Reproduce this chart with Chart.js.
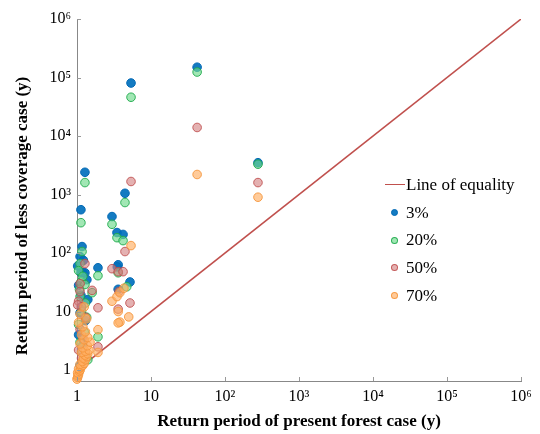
<!DOCTYPE html>
<html>
<head>
<meta charset="utf-8">
<script src="https://cdn.jsdelivr.net/npm/chart.js@4.4.0/dist/chart.umd.min.js"></script>
<style>
  html, body { margin: 0; padding: 0; background: #fff; }
  #wrap { position: relative; width: 540px; height: 434px; }
  #legend { position: absolute; left: 385px; top: 171px; font-family: "Liberation Serif", serif; font-size: 17px; color: #000; }
  #legend div { height: 27.7px; line-height: 24px; display: flex; align-items: center; }
  #legend .ln { width: 20px; height: 0; border-top: 1.5px solid #c0504d; margin-right: 1px; }
  #legend .mk { width: 7px; height: 7px; border-radius: 50%; box-sizing: border-box; border: 1px solid; margin: 0 8px 0 6px; }
</style>
</head>
<body>
<div id="wrap">
  <canvas id="chart" width="540" height="434"></canvas>
  <div id="legend"></div>
</div>
<script>
// tick labels
const xTicks = [1, 10, 100, 1e3, 1e4, 1e5, 1e6];
const xTickLabels = ['1', '10', '10²', '10³', '10⁴', '10⁵', '10⁶'];
const yTicks = [1, 10, 100, 1e3, 1e4, 1e5, 1e6];
const yTickLabels = ['1', '10', '10²', '10³', '10⁴', '10⁵', '10⁶'];
const yTitle = 'Return period of less coverage case (y)';

// line of equality
const eqX = [1, 1e6];
const eqY = [1, 1e6];

// 3% coverage
const s3X = [5.37, 42, 279, 1.28, 4.45, 1.13, 2.97, 3.47, 4.19, 1.17, 1.1, 1.92, 3.6, 3.5, 1.13, 1.2, 1.28, 1.36, 5.2, 1.13, 1.1, 3.6, 1.3, 1.05, 1.2, 1.3, 1.1, 1.4, 1.2, 1.02, 1.15, 1.05, 1.22];
const s3Y = [8.05e4, 1.5e5, 3500, 2400, 1050, 550, 420, 224, 208, 129, 87, 56, 63, 58, 46, 46, 46, 35, 32, 19, 9.5, 24, 7, 4, 2.7, 1.8, 1.2, 16, 3.3, 60, 12, 28, 75];

// 20% coverage
const s20X = [5.37, 42, 279, 1.28, 4.45, 1.13, 2.97, 3.47, 4.19, 1.17, 1.1, 1.92, 3.6, 1.13, 1.28, 4.7, 1.6, 1.92, 1.05, 1.2, 1.1, 1.3, 1.15, 1.35, 1.05, 1.25, 1.1, 1.2, 1.4, 1.08];
const s20Y = [4.6e4, 1.24e5, 3300, 1600, 730, 330, 310, 183, 163, 106, 66, 41, 46, 32, 29, 26.5, 21, 3.7, 50, 40, 18, 14, 10, 8, 6, 4.5, 3, 2, 1.5, 24];

// 50% coverage
const s50X = [5.37, 4.45, 42, 279, 1.28, 2.97, 3.6, 4.19, 1.6, 1.1, 3.7, 5.2, 1.92, 3.6, 1.92, 1.1, 1.05, 1.15, 1.3, 1.1, 1.2, 1.05, 1.15, 1.02];
const s50Y = [1670, 106, 1.4e4, 1600, 66, 54, 48, 48, 23, 22, 22, 14, 11.6, 11, 2.5, 30, 15, 12, 8, 5, 3.5, 2.2, 1.6, 13];

// 70% coverage
const s70X = [5.37, 42, 279, 1.92, 1.92, 2.97, 3.47, 3.8, 4.3, 3.6, 3.8, 3.6, 5.0, 1.0, 1.02, 1.03, 1.05, 1.02, 1.08, 1.1, 1.05, 1.12, 1.15, 1.2, 1.1, 1.25, 1.18, 1.3, 1.22, 1.35, 1.28, 1.4, 1.15, 1.3, 1.45, 1.2, 1.38, 1.1, 1.5, 1.25, 1.4, 1.15, 1.3, 1.2, 1.05, 1.35, 1.1, 1.25];
const s70Y = [134, 2200, 900, 4.9, 2.0, 15, 18, 21, 25, 10, 6.6, 6.4, 8.1, 0.7, 0.75, 0.8, 0.85, 0.9, 0.95, 1.0, 1.05, 1.1, 1.15, 1.2, 1.25, 1.3, 1.4, 1.5, 1.6, 1.7, 1.8, 1.9, 2.0, 2.1, 2.2, 2.4, 2.6, 2.8, 3.0, 3.3, 3.6, 4.0, 4.5, 5.5, 6.5, 7.5, 9, 12];

const series = [
  { label: '3%', xs: s3X, ys: s3Y, fill: 'rgba(0,112,189,0.92)', edge: 'rgba(0,104,180,1)', order: 4 },
  { label: '20%', xs: s20X, ys: s20Y, fill: 'rgba(110,218,140,0.65)', edge: 'rgba(30,170,75,0.9)', order: 3 },
  { label: '50%', xs: s50X, ys: s50Y, fill: 'rgba(210,125,125,0.6)', edge: 'rgba(190,75,75,0.85)', order: 2 },
  { label: '70%', xs: s70X, ys: s70Y, fill: 'rgba(255,175,100,0.65)', edge: 'rgba(245,150,60,0.9)', order: 1 }
];

const pts = (xs, ys) => xs.map((x, i) => ({ x, y: ys[i] }));

const datasets = [{
  type: 'line',
  label: 'Line of equality',
  data: pts(eqX, eqY),
  borderColor: '#c0504d',
  borderWidth: 1.5,
  pointRadius: 0,
  fill: false,
  order: 5
}];
for (const s of series) {
  datasets.push({
    label: s.label,
    data: pts(s.xs, s.ys),
    backgroundColor: s.fill,
    borderColor: s.edge,
    borderWidth: 1,
    pointRadius: 4.3,
    clip: false,
    order: s.order
  });
}

// legend
const lg = document.getElementById('legend');
lg.innerHTML = '<div><span class="ln"></span>Line of equality</div>' +
  series.map(s => `<div><span class="mk" style="background:${s.fill};border-color:${s.edge}"></span>${s.label}</div>`).join('');

const serif = '"Liberation Serif", "Times New Roman", serif';

// small inward tick marks + the y title (drawn a bit lower than chart.js would centre it)
const extras = {
  id: 'extras',
  afterDraw(chart) {
    const { ctx, chartArea, scales } = chart;
    ctx.save();
    ctx.strokeStyle = '#999';
    ctx.lineWidth = 1;
    for (const v of yTicks) {
      const py = Math.round(scales.y.getPixelForValue(v)) + 0.5;
      ctx.beginPath(); ctx.moveTo(chartArea.left, py); ctx.lineTo(chartArea.left + 4, py); ctx.stroke();
    }
    for (const v of xTicks) {
      const px = Math.round(scales.x.getPixelForValue(v)) + 0.5;
      ctx.beginPath(); ctx.moveTo(px, chartArea.bottom); ctx.lineTo(px, chartArea.bottom - 4); ctx.stroke();
    }
    ctx.translate(23, 216);
    ctx.rotate(-Math.PI / 2);
    ctx.fillStyle = '#000';
    ctx.font = 'bold 17px ' + serif;
    ctx.textAlign = 'center';
    ctx.textBaseline = 'middle';
    ctx.fillText(yTitle, 0, 0);
    ctx.restore();
  }
};

new Chart(document.getElementById('chart'), {
  type: 'scatter',
  data: { datasets },
  options: {
    responsive: false,
    animation: false,
    layout: { padding: { top: 19, right: 19, left: 0, bottom: 0 } },
    plugins: { legend: { display: false }, tooltip: { enabled: false } },
    scales: {
      x: {
        type: 'logarithmic',
        min: 1,
        max: 1e6,
        afterFit: s => { s.height = 53; },
        afterBuildTicks: s => { s.ticks = xTicks.map(v => ({ value: v })); },
        grid: { display: false, drawTicks: false },
        border: { color: '#888', width: 1 },
        ticks: {
          autoSkip: false, maxRotation: 0, padding: 6, color: '#000',
          font: { family: serif, size: 16 },
          callback: (v) => xTickLabels[xTicks.indexOf(v)] ?? ''
        },
        title: {
          display: true, text: 'Return period of present forest case (y)', color: '#000',
          font: { family: serif, size: 17, weight: 'bold' }, padding: { top: 0, bottom: 2 }
        }
      },
      y: {
        type: 'logarithmic',
        min: 0.65,
        max: 1e6,
        afterFit: s => { s.width = 77; },
        afterBuildTicks: s => { s.ticks = yTicks.map(v => ({ value: v })); },
        grid: { display: false, drawTicks: false },
        border: { color: '#888', width: 1 },
        ticks: {
          autoSkip: false, padding: 6, color: '#000',
          font: { family: serif, size: 16 },
          callback: (v) => yTickLabels[yTicks.indexOf(v)] ?? ''
        },
        title: { display: false }
      }
    }
  },
  plugins: [extras]
});
</script>
</body>
</html>
